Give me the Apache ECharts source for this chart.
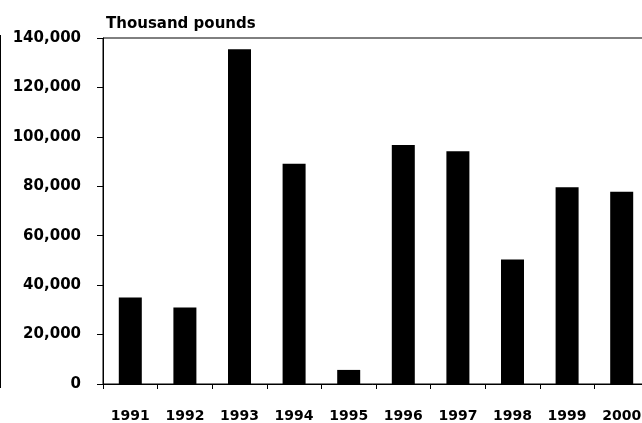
<!DOCTYPE html>
<html><head><meta charset="utf-8">
<script src="https://cdn.jsdelivr.net/npm/echarts@6/dist/echarts.min.js"></script>
<style>html,body{margin:0;padding:0;background:#fff}#c{width:642px;height:423px}</style>
</head><body><div id="c"></div>
<script>
var years = ['1991','1992','1993','1994','1995','1996','1997','1998','1999','2000'];
var values = [35000, 31000, 135400, 89100, 5700, 96700, 94200, 50400, 79600, 77800];
var yTicks = {min: 0, max: 140000, step: 20000};
var titleText = 'Thousand pounds';

var font = 'DejaVu Sans';
var chart = echarts.init(document.getElementById('c'), null, {renderer: 'canvas'});
chart.setOption({
  animation: false,
  title: {text: titleText, left: 101, top: 12, textStyle: {fontFamily: font, fontWeight: 'bold', fontSize: 15, color: '#000'}},
  grid: {left: 103, top: 38, width: 546, bottom: 39, outerBoundsMode: 'none', containLabel: false, show: true, borderColor: '#000', borderWidth: 1, backgroundColor: 'transparent'},
  xAxis: {
    type: 'category', data: years,
    axisLine: {lineStyle: {color: '#000', width: 1}},
    axisTick: {show: true, length: 5, lineStyle: {color: '#000'}},
    axisLabel: {fontFamily: font, fontWeight: 'bold', fontSize: 14, color: '#000', margin: 25}
  },
  yAxis: {
    type: 'value', min: yTicks.min, max: yTicks.max, interval: yTicks.step,
    axisLine: {show: true, lineStyle: {color: '#000', width: 1}},
    axisTick: {show: true, length: 6, lineStyle: {color: '#000'}},
    splitLine: {show: false},
    axisLabel: {fontFamily: font, fontWeight: 'bold', fontSize: 15, color: '#000', margin: 22,
      formatter: function(v){ return v.toLocaleString('en-US'); }}
  },
  graphic: [{type: 'line', shape: {x1: 0.5, y1: 35, x2: 0.5, y2: 388}, style: {stroke: '#000', lineWidth: 1}}],
  series: [{type: 'bar', data: values, barWidth: 23, itemStyle: {color: '#000'}}]
});
</script></body></html>
